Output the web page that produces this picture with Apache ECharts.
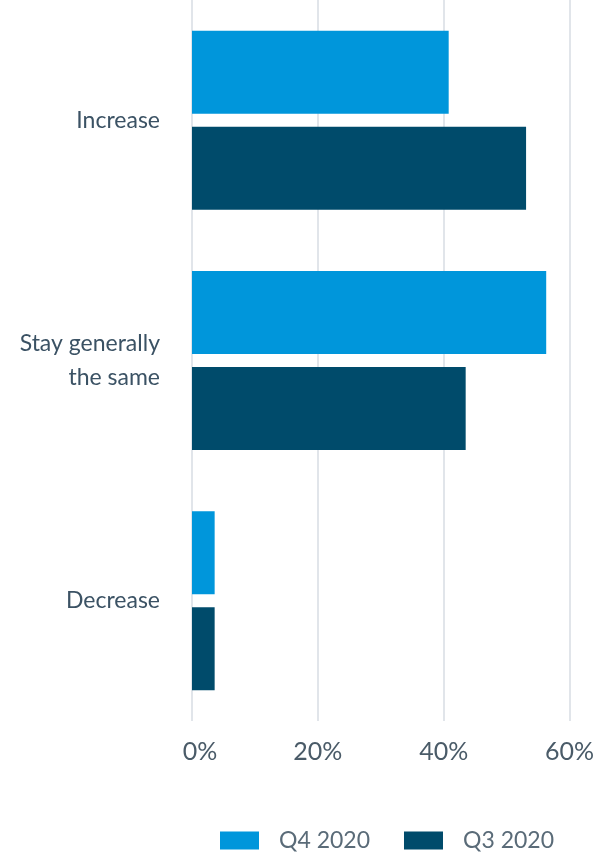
<!DOCTYPE html>
<html><head><meta charset="utf-8">
<script src="https://cdn.jsdelivr.net/npm/echarts@6/dist/echarts.min.js"></script>
<style>html,body{margin:0;padding:0;background:#fff}#c{width:597px;height:854px}</style>
</head><body><div id="c"></div>
<script>
const categories = ['Increase', 'Stay generally\nthe same', 'Decrease'];
const seriesNames = ['Q4 2020', 'Q3 2020'];
const q4 = [40.8, 56.3, 3.6];
const q3 = [53.1, 43.5, 3.6];
const xTicks = [0, 20, 40, 60];

const chart = echarts.init(document.getElementById('c'));
chart.setOption({
  animation: false,
  grid: { left: 192, right: 24, top: -1, bottom: 133, containLabel: false },
  legend: {
    top: 824, left: 215,
    itemWidth: 39, itemHeight: 18, itemGap: 34,
    icon: 'rect',
    textStyle: { fontFamily: 'Lato', fontSize: 23, color: '#5a6b78', padding: [0, 0, 0, 15] },
    data: seriesNames
  },
  xAxis: {
    type: 'value', min: xTicks[0], max: xTicks[xTicks.length - 1], interval: 20,
    axisLine: { show: false }, axisTick: { show: false },
    splitLine: { lineStyle: { color: '#e1e5ea', width: 2 } },
    axisLabel: {
      formatter: function (v) { return v === 0 ? '{z|0%}' : v + '%'; },
      fontFamily: 'Lato', fontSize: 25, color: '#4a5b68', margin: 18,
      rich: { z: { fontFamily: 'Lato', fontSize: 25, color: '#4a5b68', padding: [0, 0, 0, 16] } }
    }
  },
  yAxis: {
    type: 'category', inverse: true, data: categories,
    axisLine: { show: false }, axisTick: { show: false },
    axisLabel: { fontFamily: 'Lato', fontSize: 23, color: '#3b5264', margin: 32, lineHeight: 34, align: 'right', padding: [5, 0, 0, 0] }
  },
  series: [
    { name: seriesNames[0], type: 'bar', data: q4, itemStyle: { color: '#0096db' }, barWidth: 83, barGap: '15.7%' },
    { name: seriesNames[1], type: 'bar', data: q3, itemStyle: { color: '#004b6b' }, barWidth: 83, barGap: '15.7%' }
  ]
});
</script></body></html>
